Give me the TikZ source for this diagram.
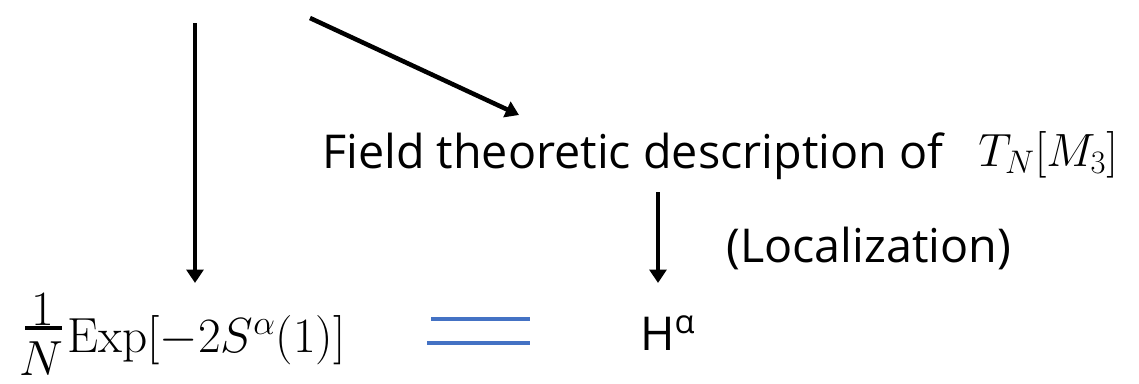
\RequirePackage{fix-cm}
\documentclass[tikz,border=0pt]{standalone}
\usepackage{amsmath}
\usepackage[no-math]{fontspec}
\setmainfont{Open Sans}
\usetikzlibrary{arrows.meta}
\definecolor{eqblue}{HTML}{4472C4}
\newlength\reflen
\settowidth\reflen{\fontsize{10pt}{12pt}\selectfont Field theoretic description of}
\pgfmathsetmacro\fsz{10*465.75/\reflen}
\begin{document}
\begin{tikzpicture}[x=0.75pt,y=-0.75pt,
  txt/.style={inner sep=0pt,anchor=base west,font=\fontsize{\fsz}{\fsz}\selectfont},
  mth/.style={inner sep=0pt,font=\fontsize{37pt}{44pt}\selectfont},
  arr/.style={line width=3.4pt,-{Triangle[length=10pt,width=12.5pt]}},
  fracbar/.style={line width=2.6pt},
  eqline/.style={line width=3.4pt,eqblue}]
\useasboundingbox (0,0) rectangle (1139,383);
% texts
\node[txt] (field) at (322,168) {Field theoretic description of};
\node[mth,anchor=base west,font=\fontsize{35pt}{42pt}\selectfont] (tn) at (978,166) {$T_N[M_3]$};
\node[txt] (loc) at (726,262) {(Localization)};
\node[txt] (H) at (640,350) {H\textsuperscript{α}};
% fraction 1/N and expression
\node[mth,anchor=base] (num) at (43,325) {$1$};
\node[mth,anchor=base] (den) at (41,375) {$N$};
\coordinate (barl) at (25,328);
\coordinate (barr) at (62,328);
\draw[fracbar] (barl) -- (barr);
\node[mth,anchor=base west] (expr) at (67,352) {$\mathrm{Exp}[-2S^{\alpha}(1)]$};
% connectors
\coordinate (s1) at (195,23);
\coordinate (e1) at (195,283);
\coordinate (s2) at (310,18);
\coordinate (e2) at (519,115);
\coordinate (s3) at (658,192);
\coordinate (e3) at (658,283);
\draw[arr] (s1) -- (e1);
\draw[arr] (s2) -- (e2);
\draw[arr] (s3) -- (e3);
% equality sign
\coordinate (q1a) at (431,319); \coordinate (q1b) at (530,319);
\coordinate (q2a) at (427,343); \coordinate (q2b) at (530,343);
\draw[eqline] (q1a) -- (q1b);
\draw[eqline] (q2a) -- (q2b);
\end{tikzpicture}
\end{document}
